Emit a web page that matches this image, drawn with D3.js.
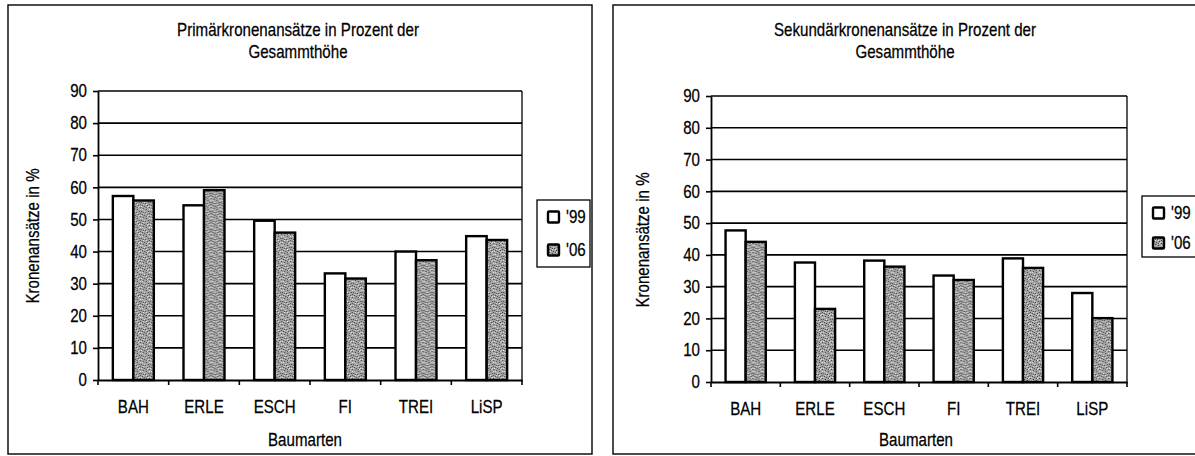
<!DOCTYPE html>
<html><head><meta charset="utf-8">
<script src="https://cdn.jsdelivr.net/npm/d3@7/dist/d3.min.js"></script>
<style>
body{margin:0;background:#fff}
text{font-family:"Liberation Sans",Arial,sans-serif;fill:#000;stroke:#000;stroke-width:0.25px}
</style>
</head><body>
<svg id="c" width="1195" height="456"></svg>
<script>
// ---- data ----
const categories = ["BAH", "ERLE", "ESCH", "FI", "TREI", "LiSP"];
const seriesNames = ["'99", "'06"];
const primaer99 = [57.3, 54.4, 49.6, 33.2, 40.0, 44.8];
const primaer06 = [55.9, 59.1, 45.9, 31.6, 37.3, 43.6];
const sekundaer99 = [47.7, 37.6, 38.2, 33.5, 38.9, 28.0];
const sekundaer06 = [44.1, 23.0, 36.3, 32.1, 35.9, 20.1];
const yTicks = [0, 10, 20, 30, 40, 50, 60, 70, 80, 90];
const titleLeft = ["Primärkronenansätze in Prozent der", "Gesammthöhe"];
const titleRight = ["Sekundärkronenansätze in Prozent der", "Gesammthöhe"];
const yLabel = "Kronenansätze in %";
const xLabel = "Baumarten";

const svg = d3.select("#c");
const FS = 18;      // font size
const SX = 0.84;    // horizontal condensing (narrow face look)

// stipple pattern for the '06 series
const defs = svg.append("defs");
const pat = defs.append("pattern").attr("id", "stip").attr("patternUnits", "userSpaceOnUse")
  .attr("width", 9).attr("height", 9);
pat.append("rect").attr("width", 9).attr("height", 9).attr("fill", "#a2a2a2");
const darkDots = [[0,0],[3,1],[6,2],[1,4],[5,5],[8,4],[2,7],[7,7],[4,8],[0,6],[6,0],[3,5]];
const lightDots = [[2,2],[7,0],[4,4],[0,2],[6,6],[3,6],[8,8],[1,8]];
darkDots.forEach(([x,y]) => pat.append("rect").attr("x",x).attr("y",y).attr("width",1).attr("height",1).attr("fill","#474747"));
lightDots.forEach(([x,y]) => pat.append("rect").attr("x",x).attr("y",y).attr("width",1).attr("height",1).attr("fill","#e2e2e2"));
const fills = ["#ffffff", "url(#stip)"];

function label(g, x, y, txt, anchor, rot) {
  return g.append("text")
    .attr("transform", `translate(${x},${y})${rot ? " rotate(-90)" : ""} scale(${SX},1)`)
    .attr("text-anchor", anchor || "middle").attr("dominant-baseline", "central")
    .style("font-size", FS + "px").text(txt);
}

function drawChart(cfg) {
  const g = svg.append("g");
  g.append("rect").attr("x", cfg.frame[0]).attr("y", cfg.frame[1])
    .attr("width", cfg.frame[2] - cfg.frame[0]).attr("height", cfg.frame[3] - cfg.frame[1])
    .attr("fill", "none").attr("stroke", "#000").attr("stroke-width", 1.4);

  const y = d3.scaleLinear().domain([0, 90]).range([cfg.bottom, cfg.top]);
  const x = d3.scaleBand().domain(categories).range([cfg.left, cfg.right])
    .paddingInner(0.42).paddingOuter(0.21);
  const x1 = d3.scaleBand().domain(seriesNames).range([0, x.bandwidth()]);

  g.append("g").selectAll("line").data(yTicks.filter(t => t > 0)).join("line")
    .attr("x1", cfg.left).attr("x2", cfg.right)
    .attr("y1", d => y(d)).attr("y2", d => y(d))
    .attr("stroke", "#000").attr("stroke-width", 1.6);
  g.append("line").attr("x1", cfg.right).attr("x2", cfg.right)
    .attr("y1", cfg.top).attr("y2", cfg.bottom).attr("stroke", "#000").attr("stroke-width", 1.3);

  const rows = categories.map((c, i) => ({c, vals: [cfg.s1[i], cfg.s2[i]]}));
  const grp = g.append("g").selectAll("g").data(rows).join("g")
    .attr("transform", d => `translate(${x(d.c)},0)`);
  grp.selectAll("rect").data(d => d.vals.map((v, k) => ({k, v}))).join("rect")
    .attr("x", d => x1(seriesNames[d.k]))
    .attr("y", d => y(d.v))
    .attr("width", x1.bandwidth())
    .attr("height", d => y(0) - y(d.v))
    .attr("fill", d => fills[d.k])
    .attr("stroke", "#000").attr("stroke-width", 2.4);

  const ya = g.append("g").attr("transform", `translate(${cfg.left},0)`)
    .call(d3.axisLeft(y).tickValues(yTicks).tickSize(5).tickPadding(6).tickSizeOuter(0));
  ya.select(".domain").attr("stroke-width", 1.8);
  ya.selectAll(".tick line").attr("stroke-width", 1.6);
  ya.selectAll("text").style("font-size", FS + "px").attr("transform", `scale(${SX},1)`)
    .attr("x", -11 / SX);

  const xa = g.append("g").attr("transform", `translate(0,${cfg.bottom})`)
    .call(d3.axisBottom(x).tickSize(0).tickPadding(20).tickSizeOuter(0));
  xa.select(".domain").attr("stroke-width", 1.8);
  xa.selectAll("text").style("font-size", FS + "px").attr("transform", `scale(${SX},1)`);
  const bounds = d3.range(categories.length + 1).map(i =>
    i < categories.length ? x(categories[i]) - x.step() * x.paddingInner() / 2 : cfg.right);
  g.append("g").selectAll("line").data(bounds).join("line")
    .attr("x1", d => d).attr("x2", d => d)
    .attr("y1", cfg.bottom).attr("y2", cfg.bottom + 5)
    .attr("stroke", "#000").attr("stroke-width", 1.6);

  cfg.title.forEach((t, i) => label(g, cfg.titleX, cfg.titleY + i * 22, t));
  label(g, cfg.xLabelX, cfg.xLabelY, xLabel);
  label(g, cfg.yLabelX, cfg.yLabelY, yLabel, "middle", true);

  const L = cfg.legend;
  g.append("rect").attr("x", L.x).attr("y", L.y).attr("width", L.w).attr("height", L.h)
    .attr("fill", "#fff").attr("stroke", "#000").attr("stroke-width", 1.3);
  seriesNames.forEach((s, k) => {
    const cy = L.y + L.first + k * L.gap;
    g.append("rect").attr("x", L.x + 11).attr("y", cy - 5.5).attr("width", 11).attr("height", 11)
      .attr("fill", fills[k]).attr("stroke", "#000").attr("stroke-width", 2.4).attr("rx", 1);
    label(g, L.x + 29, cy, s, "start");
  });
}

drawChart({
  frame: [8, 5, 592, 454], left: 98, right: 522, top: 91, bottom: 380,
  s1: primaer99, s2: primaer06, title: titleLeft, titleX: 298, titleY: 30,
  xLabelX: 305, xLabelY: 440, yLabelX: 33, yLabelY: 236,
  legend: {x: 537, y: 200, w: 53, h: 67, first: 17, gap: 33}
});
drawChart({
  frame: [613, 5, 1200, 454], left: 711, right: 1127, top: 96, bottom: 382,
  s1: sekundaer99, s2: sekundaer06, title: titleRight, titleX: 905, titleY: 30,
  xLabelX: 916, xLabelY: 440, yLabelX: 643, yLabelY: 240,
  legend: {x: 1142, y: 196, w: 60, h: 61, first: 17, gap: 30}
});
</script>
</body></html>
